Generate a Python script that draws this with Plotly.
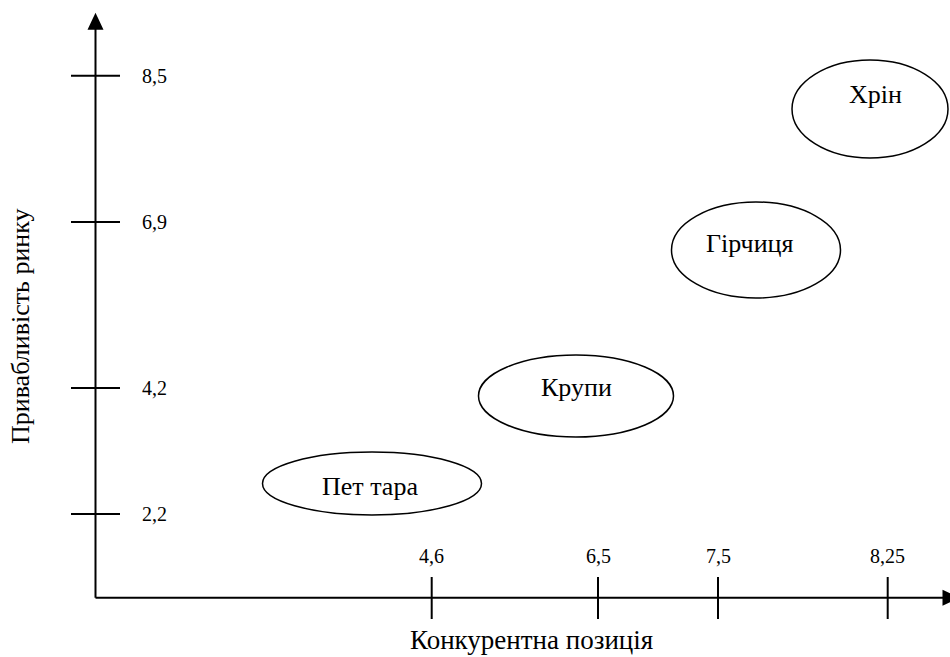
import plotly.graph_objects as go

# ---- data ----
x_tick_labels = ["4,6", "6,5", "7,5", "8,25"]
x_tick_pos = [336.2, 502.5, 622.5, 792.2]          # schematic axis units
y_tick_labels = ["8,5", "6,9", "4,2", "2,2"]
y_tick_pos = [522.0, 375.7, 209.7, 83.7]

products = ["Пет тара", "Крупи", "Гірчиця", "Хрін"]
center_x = [276.5, 480.5, 660.5, 774.5]
center_y = [114.2, 201.7, 347.7, 488.7]
radius_x = [109.5, 97.5, 84.5, 78.0]
radius_y = [31.5, 41.0, 48.0, 49.0]
label_dx = [-2.0, 0.0, -6.0, 5.0]
label_dy = [-3.0, 9.0, 7.0, 15.0]

x_title = "Конкурентна позиція"
y_title = "Привабливість ринку"

FONT = "'Liberation Serif', 'Times New Roman', 'DejaVu Serif', serif"

fig = go.Figure()
# invisible trace to anchor the axes
fig.add_trace(go.Scatter(x=center_x, y=center_y, mode="markers",
                         marker=dict(opacity=0), hoverinfo="skip", showlegend=False))

shapes = []
line = dict(color="black", width=2)
# axes
shapes.append(dict(type="line", xref="x", yref="y", x0=0, y0=0, x1=848, y1=0, line=line))
shapes.append(dict(type="line", xref="x", yref="y", x0=0, y0=0, x1=0, y1=570, line=line))
# arrow heads
shapes.append(dict(type="path", xref="x", yref="y",
                   path="M -8 568 L 8 568 L 0 585 Z", fillcolor="black", line=dict(width=0)))
shapes.append(dict(type="path", xref="x", yref="y",
                   path="M 847 -8 L 847 8 L 864 0 Z", fillcolor="black", line=dict(width=0)))
# ticks
for xp in x_tick_pos:
    shapes.append(dict(type="line", xref="x", yref="y", x0=xp, y0=-21.3, x1=xp, y1=20.7, line=line))
for yp in y_tick_pos:
    shapes.append(dict(type="line", xref="x", yref="y", x0=-24.5, y0=yp, x1=24.5, y1=yp, line=line))
# ellipses
for cx, cy, rx, ry in zip(center_x, center_y, radius_x, radius_y):
    shapes.append(dict(type="circle", xref="x", yref="y", x0=cx - rx, x1=cx + rx,
                       y0=cy - ry, y1=cy + ry, line=dict(color="black", width=1.5)))

annotations = []
for xp, t in zip(x_tick_pos, x_tick_labels):
    annotations.append(dict(x=xp, y=41.7, xref="x", yref="y", text=t, showarrow=False,
                            xanchor="center", yanchor="middle",
                            font=dict(family=FONT, size=20, color="black")))
for yp, t in zip(y_tick_pos, y_tick_labels):
    annotations.append(dict(x=44.5, y=yp, xref="x", yref="y", text=t, showarrow=False,
                            xanchor="left", yanchor="middle",
                            font=dict(family=FONT, size=20, color="black")))
for cx, cy, dx, dy, t in zip(center_x, center_y, label_dx, label_dy, products):
    annotations.append(dict(x=cx + dx, y=cy + dy, xref="x", yref="y", text=t, showarrow=False,
                            xanchor="center", yanchor="middle",
                            font=dict(family=FONT, size=26, color="black")))
annotations.append(dict(x=435.5, y=-42.3, xref="x", yref="y", text=x_title, showarrow=False,
                        xanchor="center", yanchor="middle",
                        font=dict(family=FONT, size=27, color="black")))
annotations.append(dict(x=-75.5, y=271.7, xref="x", yref="y", text=y_title, showarrow=False,
                        xanchor="center", yanchor="middle", textangle=-90,
                        font=dict(family=FONT, size=26, color="black")))

fig.update_layout(
    width=950, height=657,
    margin=dict(l=0, r=0, t=0, b=0),
    paper_bgcolor="white", plot_bgcolor="white",
    xaxis=dict(range=[-95.5, 854.5], visible=False, fixedrange=True),
    yaxis=dict(range=[-59.3, 597.7], visible=False, fixedrange=True),
    shapes=shapes, annotations=annotations, showlegend=False,
)

fig.write_html("out.html", config={"displayModeBar": False},
               post_script="document.body.style.margin='0';document.body.style.overflow='hidden';")
